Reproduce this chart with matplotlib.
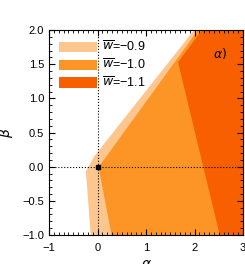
import matplotlib.pyplot as plt
from matplotlib.patches import Patch
from matplotlib.ticker import MultipleLocator

# region boundaries (alpha, beta)
light_a = [-0.14, -0.24, -0.07, 1.99, 3.0, 3.0]
light_b = [-1.0, -0.07, 0.15, 2.0, 2.0, -1.0]
mid_a = [0.29, 0.02, 0.08, 2.07, 3.0, 3.0]
mid_b = [-1.0, 0.0, 0.05, 2.0, 2.0, -1.0]
dark_a = [2.15, 1.66, 2.52, 3.0, 3.0]
dark_b = [2.0, 1.53, -1.0, -1.0, 2.0]

labels = ['$\\overline{w}$=\u22120.9', '$\\overline{w}$=\u22121.0', '$\\overline{w}$=\u22121.1']
colors = ['#fdc68e', '#fc9526', '#f75f00']

plt.rcParams['font.family'] = ['Liberation Sans', 'DejaVu Sans']
plt.rcParams['mathtext.fontset'] = 'dejavusans'

fig = plt.figure(figsize=(2.45, 2.64), dpi=100)
ax = fig.add_axes([0.2, 0.11, 0.792, 0.776])

ax.fill(light_a, light_b, color=colors[0], lw=0)
ax.fill(mid_a, mid_b, color=colors[1], lw=0)
ax.fill(dark_a, dark_b, color=colors[2], lw=0)

ax.axvline(0, color='k', ls=':', lw=0.8)
ax.axhline(0, color='k', ls=':', lw=0.8)
ax.plot([0], [0], 's', color='k', ms=3.5)

ax.set_xlim(-1, 3)
ax.set_ylim(-1, 2)
ax.xaxis.set_major_locator(MultipleLocator(1))
ax.xaxis.set_minor_locator(MultipleLocator(0.1))
ax.yaxis.set_major_locator(MultipleLocator(0.5))
ax.yaxis.set_minor_locator(MultipleLocator(0.1))
ax.tick_params(which='both', direction='in', top=True, right=True, labelsize=8)
ax.tick_params(which='major', length=4)
ax.tick_params(which='minor', length=2)
ax.tick_params(axis='x', pad=6)
ax.xaxis.set_major_formatter(plt.FuncFormatter(lambda v, p: f'{v:.0f}'.replace('-', '\u2212')))
ax.yaxis.set_major_formatter(plt.FuncFormatter(lambda v, p: f'{v:.1f}'.replace('-', '\u2212')))

ax.set_xlabel('$\\alpha$', fontsize=10, labelpad=3)
ax.set_ylabel('$\\beta$', fontsize=10, labelpad=5)

ax.text(2.52, 1.65, '$\\alpha)$', fontsize=9, ha='center', va='center')

handles = [Patch(color=c, lw=0) for c in colors]
ax.legend(handles, labels, loc='upper left', frameon=False, fontsize=9,
          handlelength=3.0, handleheight=0.9, labelspacing=0.3,
          handletextpad=0.4, borderaxespad=0.4)

fig.savefig('out.png', dpi=100)
